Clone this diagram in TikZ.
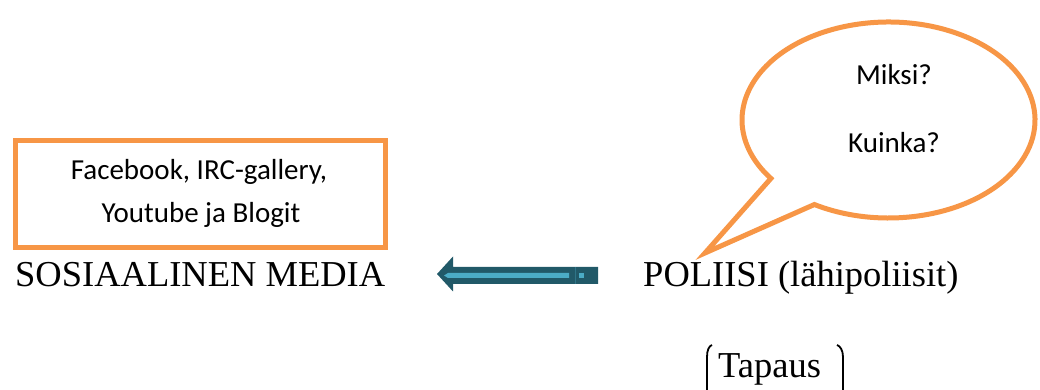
\documentclass[tikz,border=0pt]{standalone}
\usepackage{fontspec}
\setmainfont{Liberation Serif}
\newfontfamily\calfont{Carlito}
\definecolor{orng}{HTML}{F79646}
\definecolor{darkteal}{HTML}{215968}
\definecolor{lightteal}{HTML}{4BACC6}
\begin{document}
\begin{tikzpicture}[x=1pt,y=1pt,
  bigtext/.style={inner sep=0pt,font=\fontsize{36.5}{43}\selectfont},
  caltext/.style={inner sep=0pt,font=\calfont\fontsize{29}{34}\selectfont},
  orngline/.style={draw=orng,line width=5pt,line join=miter}]
\useasboundingbox (0,0) rectangle (1040,390);
\clip (0,0) rectangle (1040,390);
% box
\draw[orngline,fill=white] (15.5,142.5) rectangle (385.5,249.5);
\node[caltext,anchor=base] (fb) at (199,210) {Facebook, IRC-gallery,};
\node[caltext,anchor=base] (yt) at (201,167) {Youtube ja Blogit};
% main texts
\node[bigtext,anchor=base west] (some) at (15,103) {SOSIAALINEN MEDIA};
\node[bigtext,anchor=base west] (pol) at (643,103) {POLIISI (lähipoliisit)};
\node[bigtext,anchor=base west] (tap) at (718,12) {Tapaus};
% brackets
\draw[line width=1.8pt] (712,45) .. controls (709,44) and (707,40) .. (707,33) -- (707,-10);
\draw[line width=1.8pt] (837,45) .. controls (840,44) and (843,40) .. (843,33) -- (843,-10);
% speech bubble
\coordinate (tip) at (705,137);
\draw[orngline,fill=white] (888.5,270) ++(239.6:146.5 and 98)
  arc[start angle=239.6,end angle=576.6,x radius=146.5,y radius=98]
  -- (tip) -- cycle;
\node[caltext,anchor=base] (miksi) at (894,305) {Miksi?};
\node[caltext,anchor=base] (kuinka) at (894,237) {Kuinka?};
% arrow
\coordinate (atip) at (437,116);
\fill[darkteal] (atip) -- (453,133.5) -- (453,123) -- (598,123) -- (598,106) -- (453,106) -- (453,98.5) -- cycle;
\fill[lightteal] (444,114.5) -- (448,117) -- (569,117) -- (569,112) -- (448,112) -- cycle;
\fill[lightteal] (579,117) rectangle (584,112);
\draw[lightteal,opacity=0.35,line width=0.8pt] (575,123) -- (575,106);
\end{tikzpicture}
\end{document}
